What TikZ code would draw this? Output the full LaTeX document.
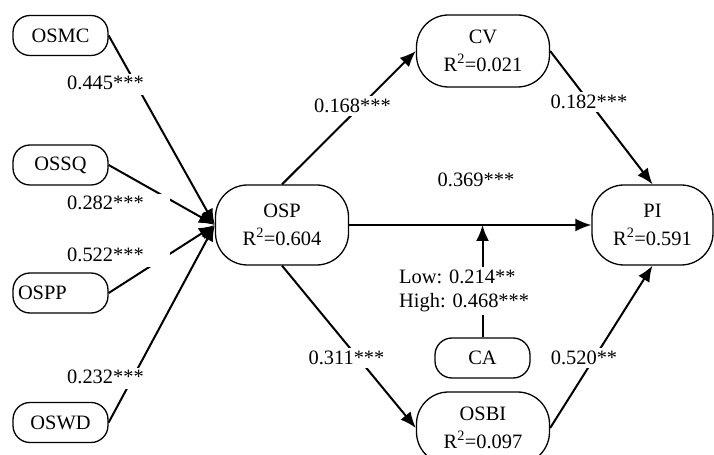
\documentclass[tikz,border=0pt]{standalone}
\usepackage{fontspec}
\setmainfont{Liberation Serif}
\usetikzlibrary{arrows.meta}
\begin{document}
\begin{tikzpicture}[>={Latex[length=16bp,width=13bp]},line join=bevel,
  font=\fontsize{20.5}{24}\selectfont,
  bigbox/.style={draw,rounded corners=32bp,line width=1.3bp,minimum width=133bp,minimum height=72bp,align=center,inner sep=0pt,font=\fontsize{20.5}{27.5}\selectfont},
  smallbox/.style={draw,rounded corners=17bp,line width=1.3bp,minimum width=95bp,minimum height=40bp,inner sep=0pt},
  coef/.style={fill=white,inner sep=3bp,anchor=base},
  sidecoef/.style={coef,anchor=base west,text width=100bp,align=left,text height=14bp,text depth=3bp,inner ysep=2bp},
  link/.style={black,->,line width=2bp}]
\useasboundingbox (0bp,0bp) rectangle (714bp,455bp);
%%
\node (node_osmc) at (60.5bp,419.5bp) [smallbox] {OSMC};
  \node (node_ossq) at (60.5bp,290.0bp) [smallbox] {OSSQ};
  \node (node_ospp) at (60.5bp,162.0bp) [smallbox,text width=85bp,align=left,inner xsep=5bp] {OSPP};
  \node (node_oswd) at (60.5bp,32.5bp) [smallbox] {OSWD};
  \node (node_osp) at (282.0bp,230.0bp) [bigbox,minimum height=80bp] {OSP\\R\textsuperscript{2}=0.604};
  \node (node_cv) at (483.0bp,404.0bp) [bigbox] {CV\\R\textsuperscript{2}=0.021};
  \node (node_pi) at (652.5bp,230.0bp) [bigbox,minimum width=121bp,minimum height=80bp] {PI\\R\textsuperscript{2}=0.591};
  \node (node_ca) at (482.5bp,97.0bp) [smallbox,minimum width=95bp,minimum height=40bp] {CA};
  \node (node_osbi) at (483.0bp,27.0bp) [bigbox] {OSBI\\R\textsuperscript{2}=0.097};
  \coordinate (node_mod) at (node_ca.north |- node_osp.east);
  \draw [link] (node_osmc.east) -- (node_osp.west);
  \draw [link] (node_ossq.east) -- (node_osp.west);
  \draw [link] (node_ospp.east) -- (node_osp.west);
  \draw [link] (node_oswd.east) -- (node_osp.west);
  \draw [link] (node_osp.north) -- (node_cv.west);
  \draw [link] (node_osp.east) -- (node_pi.west);
  \draw [link] (node_osp.south) -- (node_osbi.west);
  \draw [link] (node_cv.east) -- (node_pi.north);
  \draw [link] (node_osbi.east) -- (node_pi.south);
  \draw [link] (node_ca.north) -- (node_mod);
%
\node (node_l0) at (64.0bp,365.0bp) [sidecoef] {0.445***};
  \node (node_l1) at (64.0bp,245.0bp) [sidecoef] {0.282***};
  \node (node_l2) at (64.0bp,193.0bp) [sidecoef] {0.522***};
  \node (node_l3) at (64.0bp,71.0bp) [sidecoef] {0.232***};
  \node (node_l4) at (352.5bp,342.0bp) [coef] {0.168***};
  \node (node_l5) at (476.0bp,268.0bp) [coef] {0.369***};
  \node (node_l6) at (346.5bp,90.0bp) [coef] {0.311***};
  \node (node_l7) at (589.0bp,346.0bp) [coef] {0.182***};
  \node (node_l8) at (584.0bp,90.0bp) [coef] {0.520**};
  \node (node_l9) at (396.0bp,164.0bp) [coef,anchor=west,align=left] {Low: 0.214**\\High: 0.468***};
%
\end{tikzpicture}
\end{document}
